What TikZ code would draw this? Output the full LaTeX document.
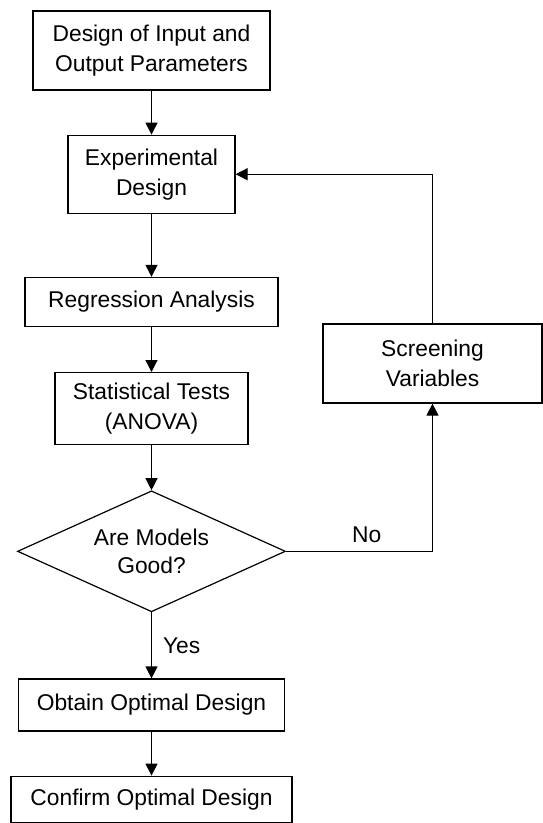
\documentclass[tikz,border=0pt]{standalone}
\usepackage{fontspec}
\setmainfont{Liberation Sans}
\usetikzlibrary{shapes.geometric, arrows.meta, positioning}

\begin{document}
\begin{tikzpicture}[x=1pt, y=1pt, node distance=44pt, auto]
    % Define the style for the nodes
    \tikzstyle{block} = [rectangle, draw, line width=1.2pt, align=center, inner sep=0pt, font=\fontsize{22.8}{30}\selectfont]
    \tikzstyle{decision} = [diamond, draw, line width=1.2pt, aspect=2.2, align=center, inner sep=0pt, font=\fontsize{22.8}{28}\selectfont]
    \tikzstyle{line} = [draw, -{Triangle[length=12pt, width=12pt]}, line width=1.2pt]
    \tikzstyle{answer} = [font=\fontsize{22.8}{26}\selectfont, inner sep=0pt]

    \useasboundingbox (0,0) rectangle (543,-823);

    % Place the nodes
    \node [block, minimum width=237pt, minimum height=79pt] at (151.5,-50.5) (params) {Design of Input and\\Output Parameters};
    \node [block, below=44pt of params, minimum width=167pt, minimum height=78pt] (expdesign) {Experimental\\Design};
    \node [block, below=63pt of expdesign, minimum width=253pt, minimum height=49pt] (regression) {Regression Analysis};
    \node [block, below=45pt of regression, minimum width=193pt, minimum height=72pt] (stattests) {Statistical Tests\\(ANOVA)};
    \node [decision, below=45pt of stattests, minimum width=268pt, minimum height=121pt] (goodmodels) {Are Models\\Good?};
    \node [block, below=66pt of goodmodels, minimum width=266pt, minimum height=52pt] (optimal) {Obtain Optimal Design};
    \node [block, below=44pt of optimal, minimum width=281pt, minimum height=46pt] (confirm) {Confirm Optimal Design};
    \node [block, minimum width=219pt, minimum height=79pt] at (432.5,-363.5) (screening) {Screening\\Variables};

    % Connect the nodes with paths
    \path [line] (params) -- (expdesign);
    \path [line] (expdesign) -- (regression);
    \path [line] (regression) -- (stattests);
    \path [line] (stattests) -- (goodmodels);
    \path [line] (goodmodels) -- node [answer, right=11pt] {Yes} (optimal);
    \path [line] (optimal) -- (confirm);
    \path [line] (goodmodels.east) -- node [answer, above=8pt, pos=0.55] {No} (goodmodels.east -| screening.south) -- (screening.south);
    \path [line] (screening.north) |- (expdesign.east);
\end{tikzpicture}
\end{document}
